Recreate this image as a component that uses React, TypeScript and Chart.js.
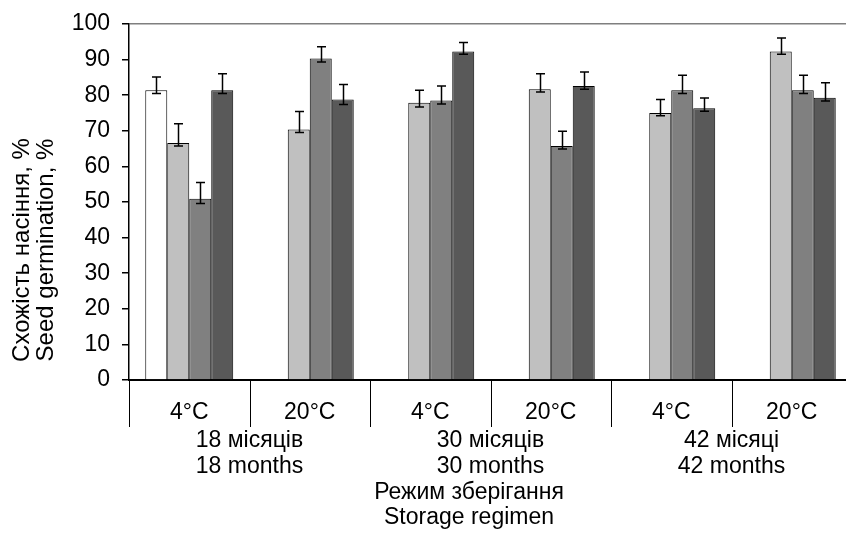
import React, { useEffect, useRef } from "react";
import { Chart, registerables } from "chart.js";

Chart.register(...registerables);

const categories = ["4°C", "20°C", "4°C", "20°C", "4°C", "20°C"];
const groupLabels = [
  ["18 місяців", "18 months"],
  ["30 місяців", "30 months"],
  ["42 місяці", "42 months"],
];
const yTitle = ["Схожість насіння, %", "Seed germination, %"];
const xTitle = ["Режим зберігання", "Storage regimen"];

const series1 = [81.4, null, null, null, null, null];
const series2 = [66.6, 70.4, 77.9, 81.7, 75.0, 92.3];
const series3 = [50.9, 90.3, 78.5, 65.7, 81.4, 81.4];
const series4 = [81.4, 78.8, 92.3, 82.6, 76.3, 79.3];

const errPlus1 = [3.7, null, null, null, null, null];
const errPlus2 = [5.4, 5.0, 3.5, 4.3, 3.8, 3.8];
const errPlus3 = [4.6, 3.3, 4.1, 4.2, 4.2, 4.2];
const errPlus4 = [4.6, 4.2, 2.5, 3.9, 2.9, 4.2];

const errMinus1 = [0.9, null, null, null, null, null];
const errMinus2 = [0.9, 0.9, 1.2, 0.8, 0.8, 0.8];
const errMinus3 = [1.3, 1.0, 1.0, 0.8, 0.9, 0.9];
const errMinus4 = [0.9, 1.4, 0.8, 0.9, 0.8, 0.9];

const yTicks = [0, 10, 20, 30, 40, 50, 60, 70, 80, 90, 100];

const FONT = "'Liberation Sans', Arial, sans-serif";
const FS = 23;

const errPlus = [errPlus1, errPlus2, errPlus3, errPlus4];
const errMinus = [errMinus1, errMinus2, errMinus3, errMinus4];

const errorBarPlugin = {
  id: "errorBars",
  afterDatasetsDraw(chart: any) {
    const ctx = chart.ctx;
    const y = chart.scales.y;
    ctx.save();
    ctx.strokeStyle = "#000";
    ctx.lineWidth = 1.5;
    chart.data.datasets.forEach((ds: any, di: number) => {
      const meta = chart.getDatasetMeta(di);
      meta.data.forEach((el: any, i: number) => {
        const v = ds.data[i];
        if (v == null) return;
        const p = errPlus[di][i];
        const m = errMinus[di][i];
        if (p == null || m == null) return;
        const x = Math.round(el.x) + 0.5;
        const yt = y.getPixelForValue(v + p);
        const yb = y.getPixelForValue(v - m);
        const cap = 4.5;
        ctx.beginPath();
        ctx.moveTo(x, yt);
        ctx.lineTo(x, yb);
        ctx.moveTo(x - cap, yt);
        ctx.lineTo(x + cap, yt);
        ctx.moveTo(x - cap, yb);
        ctx.lineTo(x + cap, yb);
        ctx.stroke();
      });
    });
    ctx.restore();
  },
};

const labelsPlugin = {
  id: "extraLabels",
  afterDraw(chart: any) {
    const ctx = chart.ctx;
    const xs = chart.scales.x;
    const area = chart.chartArea;
    const n = categories.length;
    const w = (xs.right - xs.left) / n;
    ctx.save();
    ctx.strokeStyle = "#000";
    ctx.lineWidth = 1;
    for (let i = 0; i <= n; i++) {
      const px = Math.round(xs.getPixelForValue(0) - w / 2 + i * w) + 0.5;
      ctx.beginPath();
      ctx.moveTo(px, area.bottom);
      ctx.lineTo(px, area.bottom + 47);
      ctx.stroke();
    }
    ctx.fillStyle = "#000";
    ctx.font = `${FS}px ${FONT}`;
    ctx.textAlign = "center";
    ctx.textBaseline = "middle";
    groupLabels.forEach((lines, g) => {
      const cx = (xs.getPixelForValue(2 * g) + xs.getPixelForValue(2 * g + 1)) / 2;
      lines.forEach((t, k) => ctx.fillText(t, cx, area.bottom + 61 + k * 26));
    });
    xTitle.forEach((t, k) => ctx.fillText(t, 469, area.bottom + 113 + k * 25));
    ctx.font = `24px ${FONT}`;
    yTitle.forEach((t, k) => {
      ctx.save();
      ctx.translate(22 + k * 24, 250);
      ctx.rotate(-Math.PI / 2);
      ctx.fillText(t, 0, 0);
      ctx.restore();
    });
    ctx.restore();
  },
};

export default function App() {
  const ref = useRef<HTMLCanvasElement>(null);
  useEffect(() => {
    if (!ref.current) return;
    const mk = (data: any, bg: string) => ({
      data,
      backgroundColor: bg,
      borderColor: "#000",
      borderWidth: 1,
      categoryPercentage: 0.73,
      barPercentage: 1,
    });
    const chart = new Chart(ref.current, {
      type: "bar",
      data: {
        labels: categories,
        datasets: [
          mk(series1, "#ffffff"),
          mk(series2, "#c0c0c0"),
          mk(series3, "#808080"),
          mk(series4, "#595959"),
        ],
      },
      options: {
        animation: false,
        responsive: false,
        devicePixelRatio: 1,
        layout: { padding: { left: 0, top: 24, right: 8, bottom: 0 } },
        plugins: { legend: { display: false }, tooltip: { enabled: false } },
        scales: {
          x: {
            offset: true,
            grid: { display: false },
            border: { display: true, color: "#000", width: 2 },
            ticks: {
              color: "#000",
              font: { family: FONT, size: FS },
              padding: 11,
              maxRotation: 0,
              autoSkip: false,
            },
            afterFit: (s: any) => {
              s.height = 162;
              s.paddingLeft = 0;
              s.paddingRight = 0;
            },
          },
          y: {
            min: 0,
            max: 100,
            afterBuildTicks: (s: any) => {
              s.ticks = yTicks.map((v) => ({ value: v }));
            },
            grid: {
              drawOnChartArea: true,
              color: (c: any) => (c.tick && c.tick.value === 100 ? "#7f7f7f" : "rgba(0,0,0,0)"),
              tickColor: "#000",
              tickLength: 7,
              lineWidth: 1.5,
            },
            border: { display: true, color: "#000", width: 1.5 },
            ticks: {
              color: "#000",
              font: { family: FONT, size: FS },
              padding: 12,
            },
            afterFit: (s: any) => {
              s.width = 129;
              s.paddingTop = 0;
              s.paddingBottom = 0;
            },
          },
        },
      },
      plugins: [errorBarPlugin, labelsPlugin],
    });
    return () => chart.destroy();
  }, []);
  return (
    <div
      style={{
        position: "fixed",
        left: 0,
        top: 0,
        width: 846,
        height: 542,
        overflow: "hidden",
        background: "#fff",
      }}
    >
      <canvas ref={ref} width={860} height={542} style={{ width: 860, height: 542, display: "block" }} />
    </div>
  );
}
